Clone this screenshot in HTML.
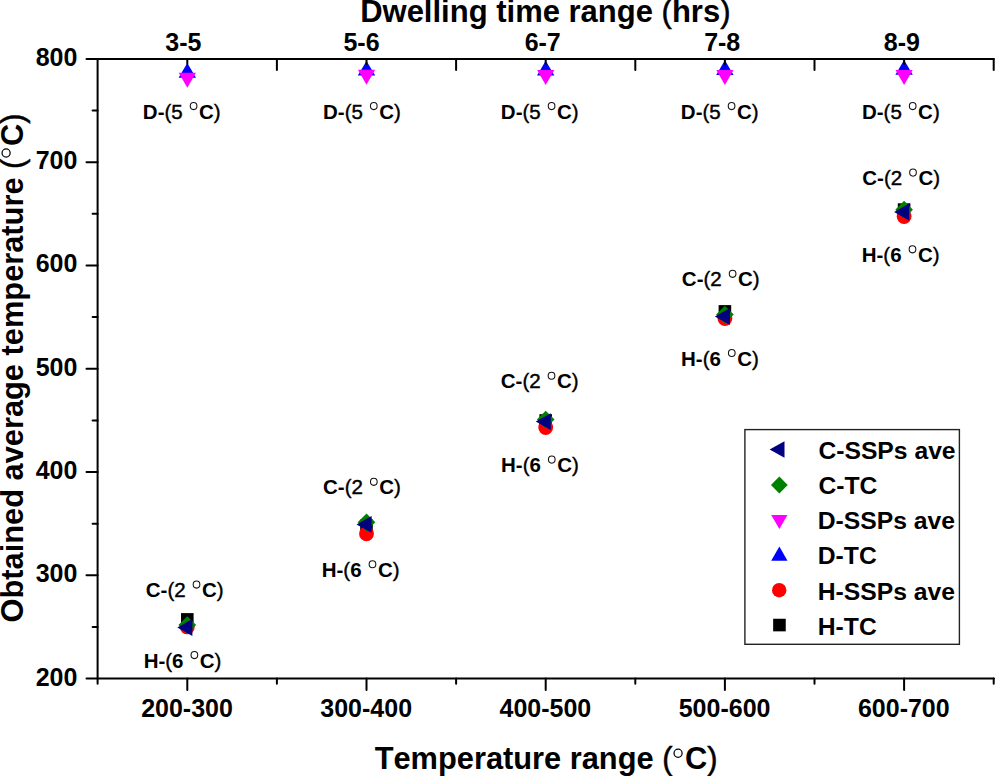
<!DOCTYPE html>
<html><head><meta charset="utf-8"><title>Chart</title>
<style>html,body{margin:0;padding:0;background:#fff;width:995px;height:776px;overflow:hidden}
svg{display:block} text{font-family:"Liberation Sans",sans-serif;font-weight:bold;font-kerning:none}</style>
</head><body>
<svg width="995" height="776" viewBox="0 0 995 776" font-family="Liberation Sans" font-weight="bold">
<rect width="995" height="776" fill="#fff"/>
<rect x="181.00" y="613.10" width="12.60" height="12.60" fill="#000"/>
<circle cx="187.30" cy="626.90" r="7.40" fill="#ff0000"/>
<polygon points="187.30,616.15 196.15,625.00 187.30,633.85 178.45,625.00" fill="#008000"/>
<polygon points="187.30,63.00 196.00,77.70 178.60,77.70" fill="#0000ff"/>
<polygon points="178.70,72.80 195.90,72.80 187.30,87.80" fill="#ff00ff"/>
<polygon points="177.30,627.50 192.40,619.10 192.40,635.90" fill="#000080"/>
<rect x="360.20" y="519.50" width="12.60" height="12.60" fill="#000"/>
<circle cx="366.50" cy="533.80" r="7.40" fill="#ff0000"/>
<polygon points="366.50,513.45 375.35,522.30 366.50,531.15 357.65,522.30" fill="#008000"/>
<polygon points="366.50,60.90 375.20,75.60 357.80,75.60" fill="#0000ff"/>
<polygon points="357.90,69.80 375.10,69.80 366.50,84.80" fill="#ff00ff"/>
<polygon points="356.50,524.40 371.60,516.00 371.60,532.80" fill="#000080"/>
<rect x="539.40" y="414.20" width="12.60" height="12.60" fill="#000"/>
<circle cx="545.70" cy="427.50" r="7.40" fill="#ff0000"/>
<polygon points="545.70,410.65 554.55,419.50 545.70,428.35 536.85,419.50" fill="#008000"/>
<polygon points="545.70,60.80 554.40,75.50 537.00,75.50" fill="#0000ff"/>
<polygon points="537.10,69.90 554.30,69.90 545.70,84.90" fill="#ff00ff"/>
<polygon points="535.70,421.60 550.80,413.20 550.80,430.00" fill="#000080"/>
<rect x="718.60" y="305.10" width="12.60" height="12.60" fill="#000"/>
<circle cx="724.90" cy="318.50" r="7.40" fill="#ff0000"/>
<polygon points="724.90,305.65 733.75,314.50 724.90,323.35 716.05,314.50" fill="#008000"/>
<polygon points="724.90,60.20 733.60,74.90 716.20,74.90" fill="#0000ff"/>
<polygon points="716.30,69.90 733.50,69.90 724.90,84.90" fill="#ff00ff"/>
<polygon points="714.90,316.50 730.00,308.10 730.00,324.90" fill="#000080"/>
<rect x="897.80" y="203.30" width="12.60" height="12.60" fill="#000"/>
<circle cx="904.10" cy="216.50" r="7.40" fill="#ff0000"/>
<polygon points="904.10,200.85 912.95,209.70 904.10,218.55 895.25,209.70" fill="#008000"/>
<polygon points="904.10,60.00 912.80,74.70 895.40,74.70" fill="#0000ff"/>
<polygon points="895.50,69.90 912.70,69.90 904.10,84.90" fill="#ff00ff"/>
<polygon points="894.10,212.00 909.20,203.60 909.20,220.40" fill="#000080"/>
<g stroke="#000" stroke-width="2" stroke-linecap="round">
<line x1="86.50" y1="58.90" x2="993.80" y2="58.90"/>
<line x1="86.50" y1="678.60" x2="993.80" y2="678.60"/>
<line x1="97.60" y1="58.90" x2="97.60" y2="683.80"/>
<line x1="92.60" y1="626.96" x2="97.60" y2="626.96"/>
<line x1="86.50" y1="575.32" x2="97.60" y2="575.32"/>
<line x1="92.60" y1="523.67" x2="97.60" y2="523.67"/>
<line x1="86.50" y1="472.03" x2="97.60" y2="472.03"/>
<line x1="92.60" y1="420.39" x2="97.60" y2="420.39"/>
<line x1="86.50" y1="368.75" x2="97.60" y2="368.75"/>
<line x1="92.60" y1="317.11" x2="97.60" y2="317.11"/>
<line x1="86.50" y1="265.47" x2="97.60" y2="265.47"/>
<line x1="92.60" y1="213.83" x2="97.60" y2="213.83"/>
<line x1="86.50" y1="162.18" x2="97.60" y2="162.18"/>
<line x1="92.60" y1="110.54" x2="97.60" y2="110.54"/>
<line x1="276.90" y1="58.90" x2="276.90" y2="69.90"/>
<line x1="276.90" y1="678.60" x2="276.90" y2="683.80"/>
<line x1="456.10" y1="58.90" x2="456.10" y2="69.90"/>
<line x1="456.10" y1="678.60" x2="456.10" y2="683.80"/>
<line x1="635.30" y1="58.90" x2="635.30" y2="69.90"/>
<line x1="635.30" y1="678.60" x2="635.30" y2="683.80"/>
<line x1="814.50" y1="58.90" x2="814.50" y2="69.90"/>
<line x1="814.50" y1="678.60" x2="814.50" y2="683.80"/>
<line x1="993.70" y1="58.90" x2="993.70" y2="69.90"/>
<line x1="993.70" y1="678.60" x2="993.70" y2="683.80"/>
<line x1="187.30" y1="58.90" x2="187.30" y2="63.90"/>
<line x1="187.30" y1="678.60" x2="187.30" y2="689.90"/>
<line x1="366.50" y1="58.90" x2="366.50" y2="63.90"/>
<line x1="366.50" y1="678.60" x2="366.50" y2="689.90"/>
<line x1="545.70" y1="58.90" x2="545.70" y2="63.90"/>
<line x1="545.70" y1="678.60" x2="545.70" y2="689.90"/>
<line x1="724.90" y1="58.90" x2="724.90" y2="63.90"/>
<line x1="724.90" y1="678.60" x2="724.90" y2="689.90"/>
<line x1="904.10" y1="58.90" x2="904.10" y2="63.90"/>
<line x1="904.10" y1="678.60" x2="904.10" y2="689.90"/>
</g>
<rect x="744.9" y="429.6" width="214.5" height="214.7" fill="#fff" stroke="#222" stroke-width="1.4"/>
<text x="818.39" y="458.70" font-size="24.7" text-anchor="start" >C-SSPs ave</text>
<text x="818.39" y="493.90" font-size="24.7" text-anchor="start" >C-TC</text>
<text x="817.75" y="529.10" font-size="24.7" text-anchor="start" >D-SSPs ave</text>
<text x="817.75" y="564.30" font-size="24.7" text-anchor="start" >D-TC</text>
<text x="817.75" y="599.50" font-size="24.7" text-anchor="start" >H-SSPs ave</text>
<text x="817.75" y="634.70" font-size="24.7" text-anchor="start" >H-TC</text>
<polygon points="769.6,449.55 784.5,441.30 784.5,457.80" fill="#000080"/>
<polygon points="779.35,476.60 787.75,485.00 779.35,493.40 770.95,485.00" fill="#008000"/>
<polygon points="771.2,515.00 787.5,515.00 779.35,529.10" fill="#ff00ff"/>
<polygon points="779.35,546.40 787.5,560.70 771.2,560.70" fill="#0000ff"/>
<circle cx="779.20" cy="590.20" r="7.20" fill="#ff0000"/>
<rect x="773.15" y="618.75" width="12.60" height="12.60" fill="#000"/>
<text x="360.13" y="21.90" font-size="31" text-anchor="start" >Dwelling time range <tspan font-weight="normal" stroke="#000" stroke-width="0.5">(</tspan>hrs<tspan font-weight="normal" stroke="#000" stroke-width="0.5">)</tspan></text>
<text x="183.40" y="50.90" font-size="25" text-anchor="middle" >3-5</text>
<text x="361.50" y="50.90" font-size="25" text-anchor="middle" >5-6</text>
<text x="542.70" y="50.90" font-size="25" text-anchor="middle" >6-7</text>
<text x="722.20" y="50.90" font-size="25" text-anchor="middle" >7-8</text>
<text x="901.90" y="50.90" font-size="25" text-anchor="middle" >8-9</text>
<text x="77.43" y="685.50" font-size="25" text-anchor="end" >200</text>
<text x="77.43" y="582.22" font-size="25" text-anchor="end" >300</text>
<text x="77.43" y="478.93" font-size="25" text-anchor="end" >400</text>
<text x="77.43" y="375.65" font-size="25" text-anchor="end" >500</text>
<text x="77.43" y="272.37" font-size="25" text-anchor="end" >600</text>
<text x="77.43" y="169.08" font-size="25" text-anchor="end" >700</text>
<text x="77.43" y="65.80" font-size="25" text-anchor="end" >800</text>
<text x="187.00" y="717.30" font-size="25" text-anchor="middle" >200-300</text>
<text x="366.20" y="717.30" font-size="25" text-anchor="middle" >300-400</text>
<text x="545.40" y="717.30" font-size="25" text-anchor="middle" >400-500</text>
<text x="724.60" y="717.30" font-size="25" text-anchor="middle" >500-600</text>
<text x="903.80" y="717.30" font-size="25" text-anchor="middle" >600-700</text>
<text x="142.83" y="118.60" font-size="20.5" text-anchor="start" >D-<tspan font-weight="normal" stroke="#000" stroke-width="0.35">(</tspan><tspan font-weight="normal" stroke="#000" stroke-width="0.45">5</tspan> </text>
<ellipse cx="193.58" cy="106.10" rx="3.35" ry="3.55" fill="none" stroke="#111" stroke-width="1.05"/>
<text x="198.98" y="118.60" font-size="20.5" text-anchor="start" >C<tspan font-weight="normal" stroke="#000" stroke-width="0.35">)</tspan></text>
<text x="323.03" y="118.60" font-size="20.5" text-anchor="start" >D-<tspan font-weight="normal" stroke="#000" stroke-width="0.35">(</tspan><tspan font-weight="normal" stroke="#000" stroke-width="0.45">5</tspan> </text>
<ellipse cx="373.78" cy="106.10" rx="3.35" ry="3.55" fill="none" stroke="#111" stroke-width="1.05"/>
<text x="379.18" y="118.60" font-size="20.5" text-anchor="start" >C<tspan font-weight="normal" stroke="#000" stroke-width="0.35">)</tspan></text>
<text x="500.83" y="118.60" font-size="20.5" text-anchor="start" >D-<tspan font-weight="normal" stroke="#000" stroke-width="0.35">(</tspan><tspan font-weight="normal" stroke="#000" stroke-width="0.45">5</tspan> </text>
<ellipse cx="551.58" cy="106.10" rx="3.35" ry="3.55" fill="none" stroke="#111" stroke-width="1.05"/>
<text x="556.98" y="118.60" font-size="20.5" text-anchor="start" >C<tspan font-weight="normal" stroke="#000" stroke-width="0.35">)</tspan></text>
<text x="680.83" y="118.60" font-size="20.5" text-anchor="start" >D-<tspan font-weight="normal" stroke="#000" stroke-width="0.35">(</tspan><tspan font-weight="normal" stroke="#000" stroke-width="0.45">5</tspan> </text>
<ellipse cx="731.58" cy="106.10" rx="3.35" ry="3.55" fill="none" stroke="#111" stroke-width="1.05"/>
<text x="736.98" y="118.60" font-size="20.5" text-anchor="start" >C<tspan font-weight="normal" stroke="#000" stroke-width="0.35">)</tspan></text>
<text x="861.93" y="118.60" font-size="20.5" text-anchor="start" >D-<tspan font-weight="normal" stroke="#000" stroke-width="0.35">(</tspan><tspan font-weight="normal" stroke="#000" stroke-width="0.45">5</tspan> </text>
<ellipse cx="912.68" cy="106.10" rx="3.35" ry="3.55" fill="none" stroke="#111" stroke-width="1.05"/>
<text x="918.08" y="118.60" font-size="20.5" text-anchor="start" >C<tspan font-weight="normal" stroke="#000" stroke-width="0.35">)</tspan></text>
<text x="145.76" y="597.10" font-size="20.5" text-anchor="start" >C-<tspan font-weight="normal" stroke="#000" stroke-width="0.35">(</tspan><tspan font-weight="normal" stroke="#000" stroke-width="0.45">2</tspan> </text>
<ellipse cx="196.51" cy="584.60" rx="3.35" ry="3.55" fill="none" stroke="#111" stroke-width="1.05"/>
<text x="201.91" y="597.10" font-size="20.5" text-anchor="start" >C<tspan font-weight="normal" stroke="#000" stroke-width="0.35">)</tspan></text>
<text x="143.63" y="667.60" font-size="20.5" text-anchor="start" >H-<tspan font-weight="normal" stroke="#000" stroke-width="0.35">(</tspan>6 </text>
<ellipse cx="194.38" cy="655.10" rx="3.35" ry="3.55" fill="none" stroke="#111" stroke-width="1.05"/>
<text x="199.78" y="667.60" font-size="20.5" text-anchor="start" >C<tspan font-weight="normal" stroke="#000" stroke-width="0.35">)</tspan></text>
<text x="323.06" y="494.30" font-size="20.5" text-anchor="start" >C-<tspan font-weight="normal" stroke="#000" stroke-width="0.35">(</tspan><tspan font-weight="normal" stroke="#000" stroke-width="0.45">2</tspan> </text>
<ellipse cx="373.81" cy="481.80" rx="3.35" ry="3.55" fill="none" stroke="#111" stroke-width="1.05"/>
<text x="379.21" y="494.30" font-size="20.5" text-anchor="start" >C<tspan font-weight="normal" stroke="#000" stroke-width="0.35">)</tspan></text>
<text x="321.73" y="576.70" font-size="20.5" text-anchor="start" >H-<tspan font-weight="normal" stroke="#000" stroke-width="0.35">(</tspan>6 </text>
<ellipse cx="372.48" cy="564.20" rx="3.35" ry="3.55" fill="none" stroke="#111" stroke-width="1.05"/>
<text x="377.88" y="576.70" font-size="20.5" text-anchor="start" >C<tspan font-weight="normal" stroke="#000" stroke-width="0.35">)</tspan></text>
<text x="500.76" y="388.20" font-size="20.5" text-anchor="start" >C-<tspan font-weight="normal" stroke="#000" stroke-width="0.35">(</tspan><tspan font-weight="normal" stroke="#000" stroke-width="0.45">2</tspan> </text>
<ellipse cx="551.51" cy="375.70" rx="3.35" ry="3.55" fill="none" stroke="#111" stroke-width="1.05"/>
<text x="556.91" y="388.20" font-size="20.5" text-anchor="start" >C<tspan font-weight="normal" stroke="#000" stroke-width="0.35">)</tspan></text>
<text x="501.03" y="472.10" font-size="20.5" text-anchor="start" >H-<tspan font-weight="normal" stroke="#000" stroke-width="0.35">(</tspan>6 </text>
<ellipse cx="551.78" cy="459.60" rx="3.35" ry="3.55" fill="none" stroke="#111" stroke-width="1.05"/>
<text x="557.18" y="472.10" font-size="20.5" text-anchor="start" >C<tspan font-weight="normal" stroke="#000" stroke-width="0.35">)</tspan></text>
<text x="681.86" y="286.30" font-size="20.5" text-anchor="start" >C-<tspan font-weight="normal" stroke="#000" stroke-width="0.35">(</tspan><tspan font-weight="normal" stroke="#000" stroke-width="0.45">2</tspan> </text>
<ellipse cx="732.61" cy="273.80" rx="3.35" ry="3.55" fill="none" stroke="#111" stroke-width="1.05"/>
<text x="738.01" y="286.30" font-size="20.5" text-anchor="start" >C<tspan font-weight="normal" stroke="#000" stroke-width="0.35">)</tspan></text>
<text x="681.03" y="365.50" font-size="20.5" text-anchor="start" >H-<tspan font-weight="normal" stroke="#000" stroke-width="0.35">(</tspan>6 </text>
<ellipse cx="731.78" cy="353.00" rx="3.35" ry="3.55" fill="none" stroke="#111" stroke-width="1.05"/>
<text x="737.18" y="365.50" font-size="20.5" text-anchor="start" >C<tspan font-weight="normal" stroke="#000" stroke-width="0.35">)</tspan></text>
<text x="862.26" y="185.10" font-size="20.5" text-anchor="start" >C-<tspan font-weight="normal" stroke="#000" stroke-width="0.35">(</tspan><tspan font-weight="normal" stroke="#000" stroke-width="0.45">2</tspan> </text>
<ellipse cx="913.01" cy="172.60" rx="3.35" ry="3.55" fill="none" stroke="#111" stroke-width="1.05"/>
<text x="918.41" y="185.10" font-size="20.5" text-anchor="start" >C<tspan font-weight="normal" stroke="#000" stroke-width="0.35">)</tspan></text>
<text x="861.73" y="261.80" font-size="20.5" text-anchor="start" >H-<tspan font-weight="normal" stroke="#000" stroke-width="0.35">(</tspan>6 </text>
<ellipse cx="912.48" cy="249.30" rx="3.35" ry="3.55" fill="none" stroke="#111" stroke-width="1.05"/>
<text x="917.88" y="261.80" font-size="20.5" text-anchor="start" >C<tspan font-weight="normal" stroke="#000" stroke-width="0.35">)</tspan></text>
<text x="374.65" y="769.30" font-size="30.8" text-anchor="start" >Temperature range <tspan font-weight="normal" stroke="#000" stroke-width="0.5">(</tspan></text>
<circle cx="678.07" cy="753.20" r="4.05" fill="none" stroke="#000" stroke-width="1.25"/>
<text x="684.97" y="769.30" font-size="30.8" text-anchor="start" >C<tspan font-weight="normal" stroke="#000" stroke-width="0.5">)</tspan></text>
<g transform="translate(22.5,622.46) rotate(-90)">
<text x="0.00" y="0.00" font-size="30.8" text-anchor="start" >Obtained average temperature <tspan font-weight="normal" stroke="#000" stroke-width="0.5">(</tspan></text>
<circle cx="469.46" cy="-16.40" r="4.05" fill="none" stroke="#000" stroke-width="1.25"/>
<text x="476.36" y="0.00" font-size="30.8" text-anchor="start" >C<tspan font-weight="normal" stroke="#000" stroke-width="0.5">)</tspan></text>
</g>
</svg>
</body></html>
